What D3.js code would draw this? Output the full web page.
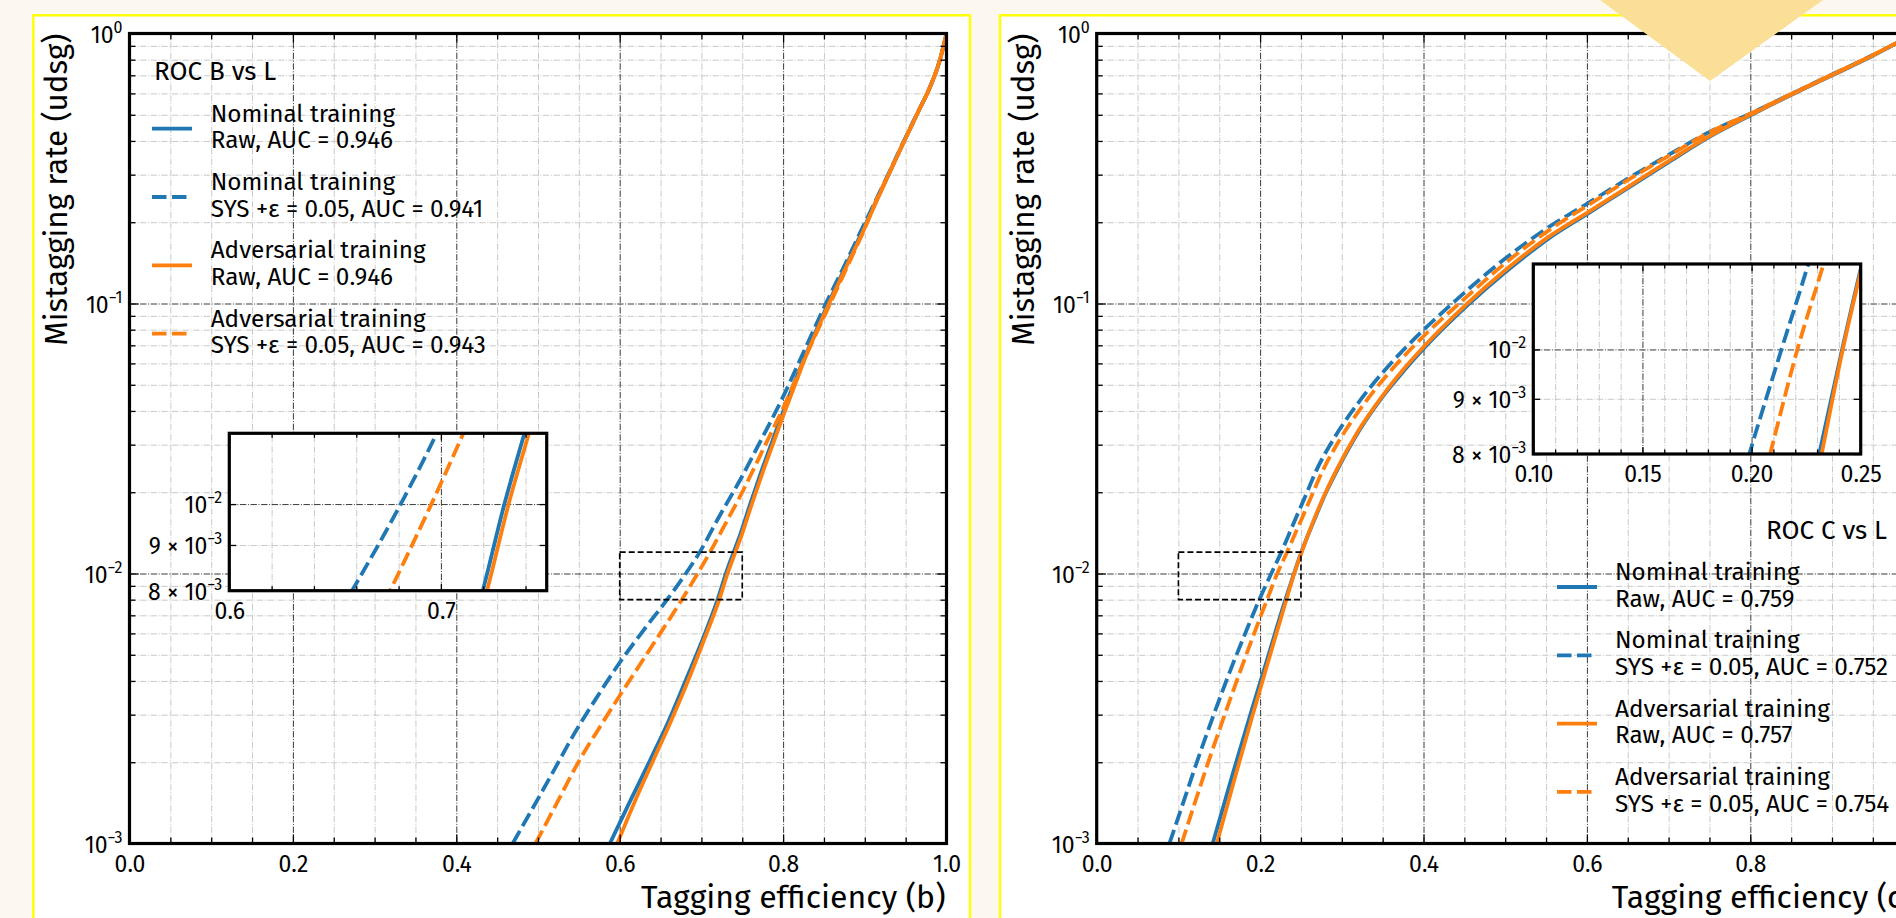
<!DOCTYPE html>
<html>
<head>
<meta charset="utf-8">
<title>ROC curves: nominal vs adversarial training</title>
<script src="https://cdn.jsdelivr.net/npm/d3@7/dist/d3.min.js"></script>
<style>
  html, body { margin: 0; padding: 0; background: #fdf8ef; overflow: hidden; }
  svg { display: block; }
</style>
</head>
<body>
<svg id="fig" width="1896" height="918"></svg>
<script>
// ---------------- data: [tagging efficiency, mistagging rate] ----------------

// b-jets vs light (udsg)
const bNominalRaw = [[0.588,1.0e-3],[0.612,1.42e-3],[0.637,2.03e-3],[0.660,2.85e-3],[0.682,4.1e-3],[0.700,5.55e-3],[0.7198,8.0e-3],[0.730,1.0e-2],[0.7386,1.18e-2],[0.747,1.38e-2],[0.760,1.82e-2],[0.773,2.37e-2],[0.786,3.04e-2],[0.799,3.9e-2],[0.812,4.94e-2],[0.825,6.17e-2],[0.849,9.08e-2],[0.875,0.134],[0.898,0.188],[0.9146,0.242],[0.930,0.304],[0.947,0.392],[0.965,0.510],[0.980,0.635],[0.992,0.800],[1.0,1.0]];
const bNominalSys = [[0.469,1.0e-3],[0.5025,1.51e-3],[0.523,1.95e-3],[0.543,2.51e-3],[0.571,3.44e-3],[0.599,4.63e-3],[0.630,6.21e-3],[0.658,8.0e-3],[0.681,1.0e-2],[0.698,1.2e-2],[0.722,1.63e-2],[0.747,2.21e-2],[0.773,3.12e-2],[0.799,4.45e-2],[0.825,6.6e-2],[0.851,9.8e-2],[0.875,0.138],[0.898,0.193],[0.9146,0.245],[0.930,0.307],[0.947,0.395],[0.965,0.512],[0.980,0.636],[0.992,0.800],[1.0,1.0]];
const bAdversarialRaw = [[0.597,1.0e-3],[0.618,1.42e-3],[0.641,2.03e-3],[0.663,2.85e-3],[0.685,4.1e-3],[0.702,5.55e-3],[0.7218,8.0e-3],[0.732,1.0e-2],[0.7407,1.18e-2],[0.749,1.38e-2],[0.762,1.82e-2],[0.775,2.37e-2],[0.788,3.04e-2],[0.801,3.9e-2],[0.814,4.94e-2],[0.826,6.17e-2],[0.850,9.08e-2],[0.876,0.134],[0.899,0.188],[0.915,0.242],[0.930,0.304],[0.947,0.392],[0.965,0.510],[0.980,0.635],[0.992,0.800],[1.0,1.0]];
const bAdversarialSys = [[0.497,1.0e-3],[0.524,1.43e-3],[0.551,2.04e-3],[0.575,2.68e-3],[0.599,3.49e-3],[0.638,5.3e-3],[0.676,8.0e-3],[0.6955,1.0e-2],[0.7106,1.2e-2],[0.730,1.54e-2],[0.750,2.0e-2],[0.775,2.86e-2],[0.800,4.1e-2],[0.828,6.4e-2],[0.857,9.9e-2],[0.880,0.140],[0.900,0.190],[0.9146,0.243],[0.930,0.305],[0.947,0.393],[0.965,0.511],[0.980,0.635],[0.992,0.800],[1.0,1.0]];

// c-jets vs light (udsg)
const cNominalRaw = [[0.142,1.0e-3],[0.166,1.79e-3],[0.187,2.93e-3],[0.208,4.73e-3],[0.2310,8.0e-3],[0.2415,1.0e-2],[0.2512,1.215e-2],[0.2655,1.557e-2],[0.2805,1.99e-2],[0.2945,2.42e-2],[0.321,3.37e-2],[0.351,4.56e-2],[0.377,5.68e-2],[0.402,6.9e-2],[0.455,9.92e-2],[0.503,0.1327],[0.553,0.1739],[0.604,0.218],[0.652,0.270],[0.702,0.337],[0.751,0.416],[0.801,0.499],[0.851,0.594],[0.901,0.702],[0.951,0.830],[0.980,0.925],[1.0,1.0]];
const cNominalSys = [[0.089,1.0e-3],[0.105,1.39e-3],[0.1218,1.97e-3],[0.1455,3.13e-3],[0.165,4.49e-3],[0.183,6.12e-3],[0.199,8.0e-3],[0.2137,1.0e-2],[0.226,1.2e-2],[0.240,1.51e-2],[0.255,1.92e-2],[0.2686,2.4e-2],[0.290,3.15e-2],[0.320,4.28e-2],[0.350,5.55e-2],[0.375,6.71e-2],[0.400,7.98e-2],[0.432,9.8e-2],[0.500,0.1467],[0.550,0.189],[0.600,0.234],[0.650,0.290],[0.700,0.355],[0.750,0.432],[0.800,0.505],[0.850,0.597],[0.900,0.705],[0.950,0.832],[0.980,0.925],[1.0,1.0]];
const cAdversarialRaw = [[0.147,1.0e-3],[0.170,1.79e-3],[0.190,2.93e-3],[0.210,4.73e-3],[0.2321,8.0e-3],[0.2418,1.0e-2],[0.2515,1.215e-2],[0.265,1.557e-2],[0.280,1.99e-2],[0.2936,2.42e-2],[0.320,3.37e-2],[0.350,4.56e-2],[0.375,5.68e-2],[0.400,6.9e-2],[0.4525,9.92e-2],[0.500,0.1327],[0.550,0.1739],[0.6015,0.218],[0.650,0.270],[0.700,0.337],[0.7495,0.416],[0.7994,0.499],[0.850,0.594],[0.900,0.702],[0.950,0.830],[0.9795,0.925],[1.0,1.0]];
const cAdversarialSys = [[0.104,1.0e-3],[0.120,1.41e-3],[0.137,2.02e-3],[0.155,2.9e-3],[0.172,4.05e-3],[0.190,5.7e-3],[0.2085,8.0e-3],[0.221,1.0e-2],[0.233,1.2e-2],[0.2475,1.51e-2],[0.2625,1.92e-2],[0.2766,2.4e-2],[0.298,3.15e-2],[0.328,4.28e-2],[0.358,5.55e-2],[0.383,6.71e-2],[0.408,7.98e-2],[0.4405,9.8e-2],[0.507,0.1467],[0.556,0.189],[0.604,0.234],[0.653,0.290],[0.702,0.355],[0.751,0.432],[0.800,0.505],[0.850,0.597],[0.900,0.705],[0.950,0.832],[0.980,0.925],[1.0,1.0]];

// legend entries (two lines each)
const bLegendLabels = [
  ["Nominal training", "Raw, AUC = 0.946"],
  ["Nominal training", "SYS +ε = 0.05, AUC = 0.941"],
  ["Adversarial training", "Raw, AUC = 0.946"],
  ["Adversarial training", "SYS +ε = 0.05, AUC = 0.943"]
];
const cLegendLabels = [
  ["Nominal training", "Raw, AUC = 0.759"],
  ["Nominal training", "SYS +ε = 0.05, AUC = 0.752"],
  ["Adversarial training", "Raw, AUC = 0.757"],
  ["Adversarial training", "SYS +ε = 0.05, AUC = 0.754"]
];

// ticks
const effTicks = [0, 0.2, 0.4, 0.6, 0.8, 1.0];
const rateTicks = [1e-3, 1e-2, 1e-1, 1];
const bInsetEffTicks = [0.6, 0.7];
const cInsetEffTicks = [0.10, 0.15, 0.20, 0.25];
const insetRateTicks = [8e-3, 9e-3, 1e-2];

// zoomed windows
const bZoomEff = [0.6, 0.75];
const cZoomEff = [0.10, 0.25];
const zoomRate = [8e-3, 1.2e-2];

// ---------------- styling / layout ----------------
const FONT = '"Fira Sans", "Open Sans", "Noto Sans", sans-serif';
const BLUE = "#1f77b4", ORANGE = "#ff7f0e";
const LW = 3.8, DASH = "14.5,5.5";
const seriesStyles = [
  { color: BLUE, dash: null },
  { color: BLUE, dash: DASH },
  { color: ORANGE, dash: null },
  { color: ORANGE, dash: DASH }
];
const AX_TOP = 33.5, AX_BOTTOM = 843.5, AX_W = 817;
const GRID_DASH = "6.4,1.6,1,1.6";
const MAJOR_GRID = "#3a3a3a", MINOR_GRID = "#c9c9c9";
const TICK_FONT = 23;

const svg = d3.select("#fig");
const defs = svg.append("defs");
svg.append("rect").attr("width", 1896).attr("height", 918).attr("fill", "#fdf8ef");

// framed white cards
[[33.3, 15.3, 936.7], [1000, 15.3, 1000]].forEach(([x, y, w]) => {
  svg.append("rect").attr("x", x).attr("y", y).attr("width", w).attr("height", 1000)
    .attr("fill", "#ffffff").attr("stroke", "#ffff00").attr("stroke-width", 2.4);
});

// power-of-ten label with superscript exponent
function powLabel(textSel, d) {
  const e = Math.floor(Math.log10(d) + 1e-9);
  const m = Math.round(d / Math.pow(10, e));
  textSel.text(null);
  textSel.append("tspan").text((m !== 1 ? m + " × " : "") + "10");
  textSel.append("tspan").attr("dy", -10).attr("font-size", 16)
    .text(e < 0 ? "\u2212" + (-e) : String(e));
}

function styleAxisText(g) {
  g.attr("font-family", FONT).attr("font-size", TICK_FONT);
  g.selectAll("text").attr("fill", "#000");
}

// grid lines drawn as full-length axis ticks
function gridAxis(parent, axisFactory, scale, values, length, transform, color, width) {
  const g = parent.append("g").attr("transform", transform)
    .call(axisFactory(scale).tickValues(values).tickSize(-length).tickFormat(""));
  g.select(".domain").remove();
  g.selectAll("line").attr("stroke", color).attr("stroke-width", width)
    .attr("stroke-dasharray", GRID_DASH);
  return g;
}

// inward tick marks (no labels)
function tickAxis(parent, axisFactory, scale, values, size, transform) {
  const g = parent.append("g").attr("transform", transform)
    .call(axisFactory(scale).tickValues(values).tickSize(-size).tickFormat(""));
  g.select(".domain").remove();
  g.selectAll("line").attr("stroke", "#000").attr("stroke-width", 1.3);
  return g;
}

function drawCurves(parent, x, y, series, clipId) {
  const line = d3.line().x(d => x(d[0])).y(d => y(d[1])).curve(d3.curveMonotoneX);
  const g = parent.append("g").attr("clip-path", `url(#${clipId})`);
  series.forEach((s, i) => {
    g.append("path").attr("d", line(s)).attr("fill", "none")
      .attr("stroke", seriesStyles[i].color).attr("stroke-width", LW)
      .attr("stroke-dasharray", seriesStyles[i].dash)
      .attr("stroke-linejoin", "round");
  });
}

function drawPanel(p) {
  const g = svg.append("g");
  const x0 = p.left, x1 = p.left + AX_W;
  const H = AX_BOTTOM - AX_TOP;
  const x = d3.scaleLinear().domain([0, 1]).range([x0, x1]);
  const y = d3.scaleLog().domain([1e-3, 1]).range([AX_BOTTOM, AX_TOP]);

  defs.append("clipPath").attr("id", p.id + "-clip").append("rect")
    .attr("x", x0).attr("y", AX_TOP).attr("width", AX_W).attr("height", H);

  // grid
  const xMinor = d3.range(1, 20).filter(i => i % 4 !== 0).map(i => i * 0.05);
  const yMinor = [];
  for (let e = -3; e < 0; e++) for (let k = 2; k < 10; k++) yMinor.push(k * Math.pow(10, e));
  gridAxis(g, d3.axisBottom, x, xMinor, H, `translate(0,${AX_BOTTOM})`, MINOR_GRID, 1);
  gridAxis(g, d3.axisLeft, y, yMinor, AX_W, `translate(${x0},0)`, MINOR_GRID, 1);
  gridAxis(g, d3.axisBottom, x, [0.2, 0.4, 0.6, 0.8], H, `translate(0,${AX_BOTTOM})`, MAJOR_GRID, 1);
  gridAxis(g, d3.axisLeft, y, [1e-2, 1e-1], AX_W, `translate(${x0},0)`, MAJOR_GRID, 1);

  drawCurves(g, x, y, p.series, p.id + "-clip");

  // zoom window outline
  g.append("rect")
    .attr("x", x(p.zoomEff[0])).attr("y", y(zoomRate[1]))
    .attr("width", x(p.zoomEff[1]) - x(p.zoomEff[0]))
    .attr("height", y(zoomRate[0]) - y(zoomRate[1]))
    .attr("fill", "none").attr("stroke", "#000").attr("stroke-width", 1.6)
    .attr("stroke-dasharray", "6,3");

  // legend
  const L = p.legend;
  const lg = g.append("g").attr("font-family", FONT);
  lg.append("text").attr("x", L.titleX).attr("y", L.titleY).attr("text-anchor", L.titleAnchor)
    .attr("font-size", 26).text(p.title);
  p.labels.forEach((lines, i) => {
    const by = L.firstY + i * 68.3;
    lg.append("line").attr("x1", L.handleX).attr("x2", L.handleX + 40)
      .attr("y1", by + 7).attr("y2", by + 7)
      .attr("stroke", seriesStyles[i].color).attr("stroke-width", LW)
      .attr("stroke-dasharray", seriesStyles[i].dash);
    const t = lg.append("text").attr("font-size", 24.3);
    lines.forEach((s, j) => t.append("tspan").attr("x", L.textX).attr("y", by + j * 26.6).text(s));
  });

  drawInset(g, p);

  // main ticks on all four sides
  tickAxis(g, d3.axisBottom, x, xMinor, 6, `translate(0,${AX_BOTTOM})`);
  tickAxis(g, d3.axisTop, x, xMinor, 6, `translate(0,${AX_TOP})`);
  tickAxis(g, d3.axisTop, x, effTicks, 9, `translate(0,${AX_TOP})`);
  tickAxis(g, d3.axisLeft, y, yMinor, 6, `translate(${x0},0)`);
  tickAxis(g, d3.axisRight, y, yMinor, 6, `translate(${x1},0)`);
  tickAxis(g, d3.axisRight, y, rateTicks, 9, `translate(${x1},0)`);

  // labelled axes
  const gx = g.append("g").attr("transform", `translate(0,${AX_BOTTOM})`)
    .call(d3.axisBottom(x).tickValues(effTicks).tickSizeInner(-9).tickSizeOuter(0)
      .tickPadding(12).tickFormat(d3.format(".1f")));
  gx.select(".domain").remove();
  gx.selectAll("line").attr("stroke-width", 1.3);
  styleAxisText(gx);

  const gy = g.append("g").attr("transform", `translate(${x0},0)`)
    .call(d3.axisLeft(y).tickValues(rateTicks).tickSizeInner(-9).tickSizeOuter(0).tickPadding(7));
  gy.select(".domain").remove();
  gy.selectAll("line").attr("stroke-width", 1.3);
  styleAxisText(gy);
  gy.selectAll(".tick text").attr("dy", 9).each(function (d) { powLabel(d3.select(this), d); });

  // spines
  g.append("rect").attr("x", x0).attr("y", AX_TOP).attr("width", AX_W).attr("height", H)
    .attr("fill", "none").attr("stroke", "#000").attr("stroke-width", 3.2);

  // axis titles
  g.append("text").attr("x", x1 - 1).attr("y", 908).attr("text-anchor", "end")
    .attr("font-family", FONT).attr("font-size", 32).text(p.xlabel);
  g.append("text").attr("transform", `translate(${x0 - 62.7},${AX_TOP}) rotate(-90)`)
    .attr("text-anchor", "end").attr("font-family", FONT).attr("font-size", 31.3)
    .text("Mistagging rate (udsg)");
}

function drawInset(parent, p) {
  const b = p.insetBox;
  const g = parent.append("g");
  const xi = d3.scaleLinear().domain(p.zoomEff).range([b.x0, b.x1]);
  const yi = d3.scaleLog().domain(zoomRate).range([b.y1, b.y0]);
  const W = b.x1 - b.x0, H = b.y1 - b.y0;

  defs.append("clipPath").attr("id", p.id + "-inset-clip").append("rect")
    .attr("x", b.x0).attr("y", b.y0).attr("width", W).attr("height", H);

  g.append("rect").attr("x", b.x0).attr("y", b.y0).attr("width", W).attr("height", H).attr("fill", "#fff");

  const n = Math.round((p.zoomEff[1] - p.zoomEff[0]) / p.insetStep);
  const xMinor = d3.range(1, n).map(i => p.zoomEff[0] + i * p.insetStep)
    .filter(v => !p.insetTicks.some(t => Math.abs(t - v) < 1e-9));
  const xMajorInner = p.insetTicks.filter(t => t > p.zoomEff[0] + 1e-9 && t < p.zoomEff[1] - 1e-9);

  gridAxis(g, d3.axisBottom, xi, xMinor, H, `translate(0,${b.y1})`, MINOR_GRID, 1);
  gridAxis(g, d3.axisLeft, yi, [9e-3], W, `translate(${b.x0},0)`, MINOR_GRID, 1);
  gridAxis(g, d3.axisBottom, xi, xMajorInner, H, `translate(0,${b.y1})`, MAJOR_GRID, 1);
  gridAxis(g, d3.axisLeft, yi, [1e-2], W, `translate(${b.x0},0)`, MAJOR_GRID, 1);

  drawCurves(g, xi, yi, p.series, p.id + "-inset-clip");

  tickAxis(g, d3.axisBottom, xi, xMinor, 4.5, `translate(0,${b.y1})`);
  tickAxis(g, d3.axisTop, xi, xMinor, 4.5, `translate(0,${b.y0})`);
  tickAxis(g, d3.axisTop, xi, p.insetTicks, 7, `translate(0,${b.y0})`);
  tickAxis(g, d3.axisRight, yi, insetRateTicks, 7, `translate(${b.x1},0)`);

  const gx = g.append("g").attr("transform", `translate(0,${b.y1})`)
    .call(d3.axisBottom(xi).tickValues(p.insetTicks).tickSizeInner(-7).tickSizeOuter(0)
      .tickPadding(12).tickFormat(d3.format(p.insetFormat)));
  gx.select(".domain").remove();
  gx.selectAll("line").attr("stroke-width", 1.3);
  styleAxisText(gx);

  const gy = g.append("g").attr("transform", `translate(${b.x0},0)`)
    .call(d3.axisLeft(yi).tickValues(insetRateTicks).tickSizeInner(-7).tickSizeOuter(0).tickPadding(7));
  gy.select(".domain").remove();
  gy.selectAll("line").attr("stroke-width", 1.3);
  styleAxisText(gy);
  gy.selectAll(".tick text").attr("dy", 8.5).each(function (d) { powLabel(d3.select(this), d); });

  g.append("rect").attr("x", b.x0).attr("y", b.y0).attr("width", W).attr("height", H)
    .attr("fill", "none").attr("stroke", "#000").attr("stroke-width", 3.2);
}

drawPanel({
  id: "roc-b",
  left: 129.5,
  series: [bNominalRaw, bNominalSys, bAdversarialRaw, bAdversarialSys],
  labels: bLegendLabels,
  title: "ROC B vs L",
  xlabel: "Tagging efficiency (b)",
  zoomEff: bZoomEff,
  insetTicks: bInsetEffTicks,
  insetStep: 0.02,
  insetFormat: ".1f",
  insetBox: { x0: 229.3, x1: 546.7, y0: 433.3, y1: 590.7 },
  legend: { titleX: 154, titleAnchor: "start", titleY: 80, handleX: 152, textX: 210.7, firstY: 121.7 }
});

drawPanel({
  id: "roc-c",
  left: 1096.7,
  series: [cNominalRaw, cNominalSys, cAdversarialRaw, cAdversarialSys],
  labels: cLegendLabels,
  title: "ROC C vs L",
  xlabel: "Tagging efficiency (c)",
  zoomEff: cZoomEff,
  insetTicks: cInsetEffTicks,
  insetStep: 0.01,
  insetFormat: ".2f",
  insetBox: { x0: 1533.3, x1: 1860.7, y0: 264, y1: 454 },
  legend: { titleX: 1887, titleAnchor: "end", titleY: 539, handleX: 1557, textX: 1615, firstY: 580 }
});

// decorative pennant over the right card
svg.append("polygon").attr("points", "1600,0 1823,0 1710,81").attr("fill", "#fbdf96");
</script>
</body>
</html>
